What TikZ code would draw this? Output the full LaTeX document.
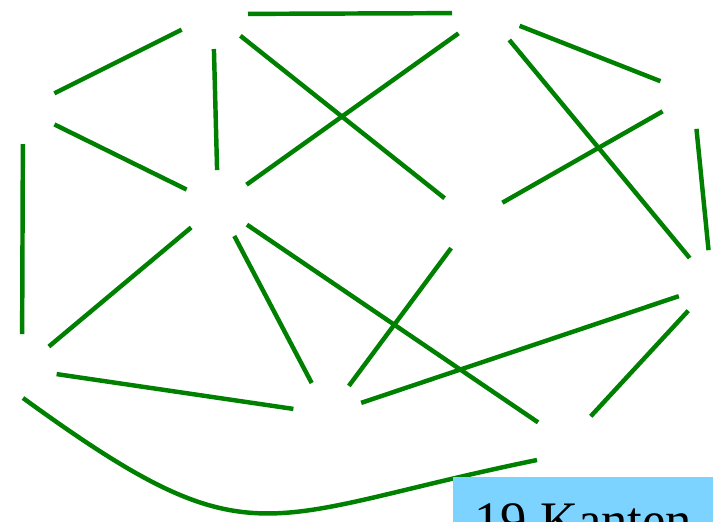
\documentclass[tikz,border=0pt]{standalone}
\usepackage{fontspec}
\setmainfont{Liberation Serif}
\usetikzlibrary{calc}
\definecolor{edgegreen}{RGB}{0,128,0}
\definecolor{countblue}{RGB}{125,211,255}
\begin{document}
\begin{tikzpicture}[
  x=0.03cm, y=-0.03cm,
  vertex/.style={circle, minimum size=2.1cm, inner sep=0pt, outer sep=0pt},
  edge/.style={edgegreen, line width=3.8pt},
  countbox/.style={fill=countblue, anchor=north west, minimum width=7.8cm, inner ysep=0.78cm, font=\fontsize{45}{50}\selectfont}]
\useasboundingbox (0,0) rectangle (722,521);
% vertices (not drawn)
\node[vertex] (a) at (23,109) {};
\node[vertex] (b) at (213,14) {};
\node[vertex] (c) at (487,13) {};
\node[vertex] (d) at (218,205) {};
\node[vertex] (e) at (472,220) {};
\node[vertex] (f) at (693,94) {};
\node[vertex] (g) at (712,285) {};
\node[vertex] (h) at (22,369) {};
\node[vertex] (i) at (328,414) {};
\node[vertex] (j) at (567,442) {};
% edges
\draw[edge] (a) -- (b);
\draw[edge] (b) -- (c);
\draw[edge] (b) -- (d);
\draw[edge] (b) -- (e);
\draw[edge] (d) -- (c);
\draw[edge] (c) -- (f);
\draw[edge] (c) -- (g);
\draw[edge] (e) -- (f);
\draw[edge] (f) -- (g);
\draw[edge] (a) -- (d);
\draw[edge] (a) -- (h);
\draw[edge] (h) -- (d);
\draw[edge] (d) -- (i);
\draw[edge] (d) -- (j);
\draw[edge] (e) -- (i);
\draw[edge] (h) -- (i);
\draw[edge] (i) -- (g);
\draw[edge] (g) -- (j);
% curved edge along the bottom
\draw[edge] ($(h)+(1,29)$) .. controls +(231,168) and +(-279,57) .. ($(j)+(-30,18)$);
% edge count
\node[countbox] (count) at (453,477) {19 Kanten};
\end{tikzpicture}
\end{document}
